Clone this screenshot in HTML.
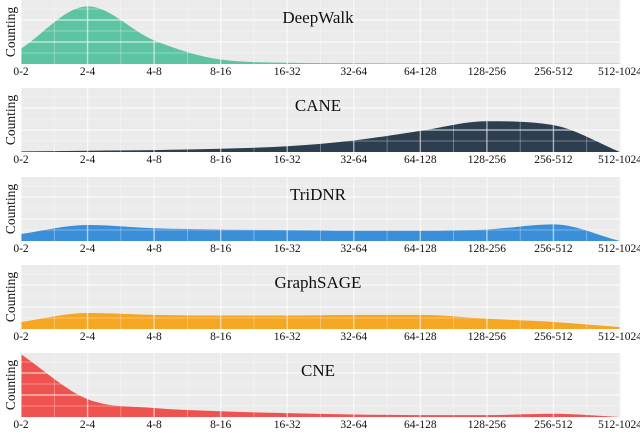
<!DOCTYPE html>
<html><head><meta charset="utf-8"><style>
body{margin:0;background:#fff;width:640px;height:429px;overflow:hidden}
svg text{font-family:"Liberation Serif",serif;fill:#111}
</style></head><body>
<svg id="chart" width="640" height="429" viewBox="0 0 640 429"></svg>
<script>
const categories=["0-2","2-4","4-8","8-16","16-32","32-64","64-128","128-256","256-512","512-1024"];
const titles=["DeepWalk","CANE","TriDNR","GraphSAGE","CNE"];
const deepwalkValues=[0.24,0.9,0.37,0.07,0.02,0.012,0.008,0.006,0.005,0.005];
const caneValues=[0.01,0.02,0.03,0.05,0.09,0.18,0.33,0.48,0.42,0.0];
const tridnrValues=[0.11,0.25,0.2,0.18,0.17,0.16,0.16,0.18,0.26,0.0];
const graphsageValues=[0.11,0.25,0.22,0.21,0.21,0.22,0.22,0.16,0.11,0.03];
const cneValues=[0.98,0.28,0.14,0.09,0.06,0.04,0.03,0.03,0.05,0.0];
const series=[deepwalkValues,caneValues,tridnrValues,graphsageValues,cneValues];
const colors=["#5cc4a2","#2c3e50","#3a8fd8","#f5a623","#ef5350"];
const NS="http://www.w3.org/2000/svg";
const svg=document.getElementById('chart');
const x0=21,x1=620,H=64;
function xs(i){return x0+i*(x1-x0)/(categories.length-1);}
function mk(t,a,p){const e=document.createElementNS(NS,t);for(const k in a)e.setAttribute(k,a[k]);(p||svg).appendChild(e);return e;}
function monotonePath(pts){
 const n=pts.length,d=[],m=[];
 for(let i=0;i<n-1;i++)d.push((pts[i+1][1]-pts[i][1])/(pts[i+1][0]-pts[i][0]));
 m[0]=d[0];m[n-1]=d[n-2];
 for(let i=1;i<n-1;i++){m[i]=(d[i-1]*d[i]<=0)?0:(d[i-1]+d[i])/2;}
 for(let i=0;i<n-1;i++){if(d[i]===0){m[i]=m[i+1]=0;continue;}const a=m[i]/d[i],b=m[i+1]/d[i],s=a*a+b*b;if(s>9){const t=3/Math.sqrt(s);m[i]=t*a*d[i];m[i+1]=t*b*d[i];}}
 let s="M"+pts[0][0]+","+pts[0][1];
 for(let i=0;i<n-1;i++){const h=(pts[i+1][0]-pts[i][0])/3;
  s+=" C"+(pts[i][0]+h)+","+(pts[i][1]+m[i]*h)+" "+(pts[i+1][0]-h)+","+(pts[i+1][1]-m[i+1]*h)+" "+pts[i+1][0]+","+pts[i+1][1];}
 return s;}
series.forEach((vals,p)=>{
 const top=[0,88,177,265,353][p],base=top+H;
 const g=mk('g',{});
 
 
 const bg=mk('rect',{x:x0,y:top,width:x1-x0+1,height:H,fill:"#ebebeb"},g);
 
 
 const ys=v=>base-v*H;
 const pts=vals.map((v,i)=>[xs(i),ys(v)]);
 const area=mk('path',{d:monotonePath(pts)+" L"+x1+","+base+" L"+x0+","+base+" Z",fill:colors[p]},g);
 
 
 for(let i=0;i<categories.length;i++){
  mk('line',{x1:xs(i),x2:xs(i),y1:top,y2:base,stroke:"#fff","stroke-opacity":0.6,"stroke-width":1.4},g);
  if(i<categories.length-1)mk('line',{x1:(xs(i)+xs(i+1))/2,x2:(xs(i)+xs(i+1))/2,y1:top,y2:base,stroke:"#fff","stroke-opacity":0.45,"stroke-width":0.7},g);
 }
 [20,42].forEach(o=>mk('line',{x1:x0,x2:x1,y1:top+o,y2:top+o,stroke:"#fff","stroke-opacity":0.6,"stroke-width":1.4},g));
 [9,31,53].forEach(o=>mk('line',{x1:x0,x2:x1,y1:top+o,y2:top+o,stroke:"#fff","stroke-opacity":0.45,"stroke-width":0.7},g));
 const t=mk('text',{x:318,y:top+23,"font-size":17,"text-anchor":"middle"},g);t.textContent=titles[p];
 
 
 const yl=mk('text',{x:0,y:0,"font-size":13.5,"text-anchor":"middle",transform:"translate(15,"+(top+H/2)+") rotate(-90)"},g);yl.textContent="Counting";
 
 
 categories.forEach((c,i)=>{
  const tk=mk('text',{x:xs(i),y:base+11,"font-size":11.5,"text-anchor":"middle"},g);tk.textContent=c;
  
  
 });
});
</script>
</body></html>
